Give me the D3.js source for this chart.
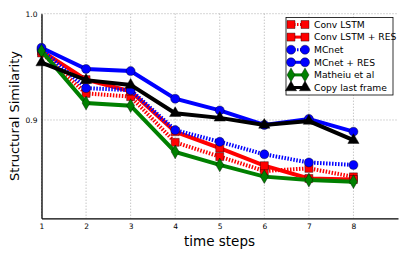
<!DOCTYPE html>
<html>
<head>
<meta charset="utf-8">
<script src="https://cdn.jsdelivr.net/npm/d3@7"></script>
<style>
  body { margin: 0; background: #fff; }
  text { font-family: "DejaVu Sans", sans-serif; }
</style>
</head>
<body>
<script>
let steps = [1, 2, 3, 4, 5, 6, 7, 8]
let xTicks = [1, 2, 3, 4, 5, 6, 7, 8]
let yTicks = [0.9, 1.0]

let convLstm    = [0.963, 0.925, 0.922, 0.879, 0.8655, 0.852, 0.8545, 0.8465]
let convLstmRes = [0.965, 0.938, 0.927, 0.889, 0.8735, 0.857, 0.845, 0.844]
let mcnet       = [0.966, 0.930, 0.928, 0.8905, 0.8795, 0.8677, 0.860, 0.8577]
let mcnetRes    = [0.968, 0.948, 0.946, 0.920, 0.909, 0.8953, 0.901, 0.889]
let matheiu     = [0.965, 0.916, 0.9135, 0.870, 0.8577, 0.8467, 0.8435, 0.842]
let copyLast    = [0.954, 0.9375, 0.933, 0.9063, 0.902, 0.8953, 0.899, 0.881]

let series = [
	{name: 'Conv LSTM',         v: convLstm,    color: '#ff0000', dash: '1.5,1.5', marker: 'square'},
	{name: 'Conv LSTM + RES',   v: convLstmRes, color: '#ff0000', dash: null,      marker: 'square'},
	{name: 'MCnet',             v: mcnet,       color: '#0000ff', dash: '1.5,1.5', marker: 'circle'},
	{name: 'MCnet + RES',       v: mcnetRes,    color: '#0000ff', dash: null,      marker: 'circle'},
	{name: 'Matheiu et al',     v: matheiu,     color: '#008000', dash: null,      marker: 'diamond'},
	{name: 'Copy last frame',   v: copyLast,    color: '#000000', dash: null,      marker: 'triangle'}
]

let W = 407, H = 255
let svg = d3.select('body').append('svg').attr('width', W).attr('height', H)

let x = d3.scaleLinear().domain([1, 9]).range([41.5, 398])
let y = d3.scaleLinear().domain([0.8075, 1.0]).range([218.3, 13.7])

let symbols = {
	square: d3.symbolSquare,
	circle: d3.symbolCircle,
	diamond: d3.symbolDiamond,
	triangle: d3.symbolTriangle
}
let sizes = {square: 64, circle: 64, diamond: 55, triangle: 55}

// grid
let grid = svg.append('g')
grid.selectAll('.gx').data(xTicks).enter().append('line')
	.attr('x1', d => x(d)).attr('x2', d => x(d))
	.attr('y1', y(1.0)).attr('y2', y(0.8075))
	.attr('stroke', '#999').attr('stroke-width', 0.8).attr('stroke-dasharray', '1,2')
grid.selectAll('.gy').data(yTicks).enter().append('line')
	.attr('x1', x(1)).attr('x2', x(9))
	.attr('y1', d => y(d)).attr('y2', d => y(d))
	.attr('stroke', '#999').attr('stroke-width', 0.8).attr('stroke-dasharray', '1,2')

// axes
let xAxis = svg.append('g').attr('transform', `translate(0,${y(0.8075)})`)
	.call(d3.axisBottom(x).tickValues(xTicks).tickSize(0).tickPadding(5).tickFormat(d3.format('d')))
let yAxis = svg.append('g').attr('transform', `translate(${x(1)},0)`)
	.call(d3.axisLeft(y).tickValues(yTicks).tickSize(0).tickPadding(4).tickFormat(d3.format('.1f')))
xAxis.select('.domain').attr('stroke', '#000').attr('stroke-width', 1.3)
yAxis.select('.domain').attr('stroke', '#000').attr('stroke-width', 1.3)
xAxis.selectAll('text').attr('font-size', 7.5).attr('font-family', 'DejaVu Sans').attr('fill', '#000')
yAxis.selectAll('text').attr('font-size', 7.5).attr('font-family', 'DejaVu Sans').attr('fill', '#000')

// lines
let line = d3.line().x((d, i) => x(steps[i])).y(d => y(d))
series.forEach(s => {
	let g = svg.append('g')
	g.append('path').attr('d', line(s.v))
		.attr('fill', 'none').attr('stroke', s.color).attr('stroke-width', 4)
		.attr('stroke-dasharray', s.dash)
	g.selectAll('path.m').data(s.v).enter().append('path')
		.attr('d', d3.symbol().type(symbols[s.marker]).size(sizes[s.marker]))
		.attr('transform', (d, i) => `translate(${x(steps[i])},${y(d)})`)
		.attr('fill', s.color).attr('stroke', '#000').attr('stroke-width', 0.4)
})

// labels
svg.append('text').attr('x', 219.5).attr('y', 246).attr('text-anchor', 'middle')
	.attr('font-size', 13.5).text('time steps')
svg.append('text').attr('transform', 'translate(19,116) rotate(-90)').attr('text-anchor', 'middle')
	.attr('font-size', 13).text('Structural Similarity')

// legend
let lg = svg.append('g').attr('transform', 'translate(286,17.5)')
lg.append('rect').attr('width', 107).attr('height', 77.5)
	.attr('fill', '#fff').attr('stroke', '#000').attr('stroke-width', 0.8)
series.forEach((s, i) => {
	let yy = 7 + i * 12.6
	lg.append('line').attr('x1', 5).attr('x2', 19).attr('y1', yy).attr('y2', yy)
		.attr('stroke', s.color).attr('stroke-width', 3).attr('stroke-dasharray', s.dash)
	;[5, 19].forEach(px => {
		lg.append('path')
			.attr('d', d3.symbol().type(symbols[s.marker]).size(sizes[s.marker]))
			.attr('transform', `translate(${px},${yy})`)
			.attr('fill', s.color).attr('stroke', '#000').attr('stroke-width', 0.4)
	})
	lg.append('text').attr('x', 28).attr('y', yy + 3.3).attr('font-size', 9.2).text(s.name)
})
</script>
</body>
</html>
